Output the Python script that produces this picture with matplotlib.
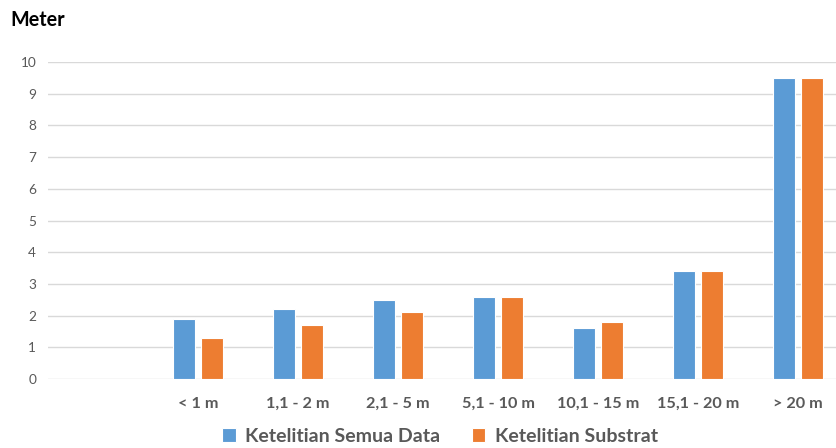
import numpy as np
import matplotlib.pyplot as plt

# data
categories = ["", "< 1 m", "1,1 - 2 m", "2,1 - 5 m", "5,1 - 10 m",
              "10,1 - 15 m", "15,1 - 20 m", "> 20 m"]
semua_data = [np.nan, 1.9, 2.2, 2.5, 2.6, 1.6, 3.4, 9.5]
substrat = [np.nan, 1.3, 1.7, 2.1, 2.6, 1.8, 3.4, 9.5]

plt.rcParams['font.family'] = ['Lato', 'DejaVu Sans']

fig = plt.figure(figsize=(8.36, 4.48), dpi=100)
ax = fig.add_axes([48/836, 1 - 379/448, 800/836, 317/448])

x = np.arange(len(categories))
w = 0.22
ax.bar(x - 0.14, semua_data, w, color='#5B9BD5', edgecolor='white', linewidth=0.8,
       label='Ketelitian Semua Data', zorder=3)
ax.bar(x + 0.14, substrat, w, color='#ED7D31', edgecolor='white', linewidth=0.8,
       label='Ketelitian Substrat', zorder=3)

ax.set_xlim(-0.5, len(categories) - 0.5)
ax.set_ylim(0, 10)
ax.set_yticks(range(0, 11))
ax.set_xticks(x)
ax.set_xticklabels(categories, fontsize=11.7, fontweight='bold', color='#595959')
ax.tick_params(axis='y', length=0, pad=8.5, labelsize=9.8, labelcolor='#595959')
ax.tick_params(axis='x', length=0, pad=13)
ax.grid(axis='y', color='#d9d9d9', linewidth=1, zorder=0)
for s in ax.spines.values():
    s.set_visible(False)

fig.text(10/836, 1 - 20/448, "Meter", fontsize=14.2, fontweight='bold', color='black',
         va='center', ha='left')

leg = fig.legend(loc='center', bbox_to_anchor=(440/836, 1 - 436/448), ncol=2,
                 frameon=False, handlelength=0.7, handleheight=0.7,
                 handletextpad=0.5, columnspacing=1.6,
                 prop={'weight': 'bold', 'size': 14})
for t in leg.get_texts():
    t.set_color('#595959')

plt.savefig("out.png", dpi=100)
